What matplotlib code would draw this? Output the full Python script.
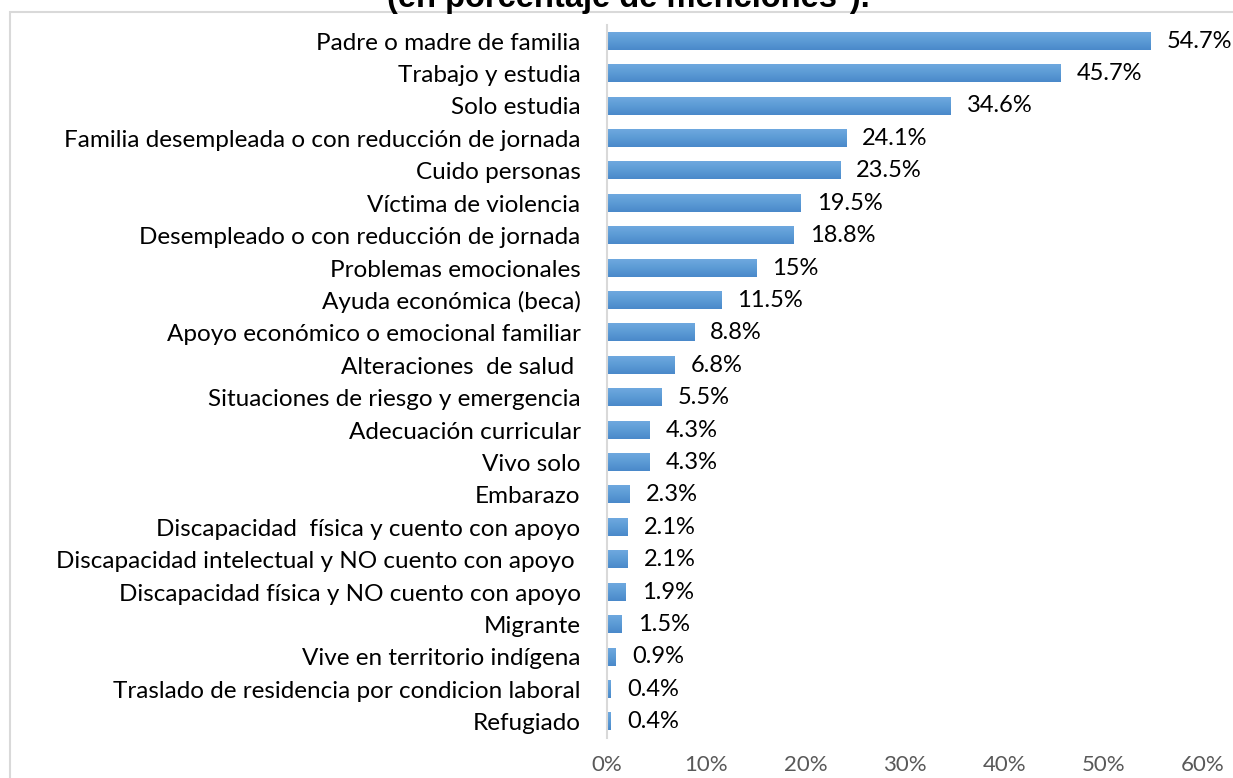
import matplotlib
matplotlib.use("Agg")
import matplotlib.pyplot as plt
import matplotlib.patches as patches
import numpy as np
from matplotlib.colors import LinearSegmentedColormap

categorias = [
    "Padre o madre de familia",
    "Trabajo y estudia",
    "Solo estudia",
    "Familia desempleada o con reducción de jornada",
    "Cuido personas",
    "Víctima de violencia",
    "Desempleado o con reducción de jornada",
    "Problemas emocionales",
    "Ayuda económica (beca)",
    "Apoyo económico o emocional familiar",
    "Alteraciones  de salud ",
    "Situaciones de riesgo y emergencia",
    "Adecuación curricular",
    "Vivo solo",
    "Embarazo",
    "Discapacidad  física y cuento con apoyo",
    "Discapacidad intelectual y NO cuento con apoyo ",
    "Discapacidad física y NO cuento con apoyo",
    "Migrante",
    "Vive en territorio indígena",
    "Traslado de residencia por condicion laboral",
    "Refugiado",
]
valores = [54.7, 45.7, 34.6, 24.1, 23.5, 19.5, 18.8, 15, 11.5, 8.8, 6.8,
           5.5, 4.3, 4.3, 2.3, 2.1, 2.1, 1.9, 1.5, 0.9, 0.4, 0.4]
etiquetas = ["54.7%", "45.7%", "34.6%", "24.1%", "23.5%", "19.5%", "18.8%",
             "15%", "11.5%", "8.8%", "6.8%", "5.5%", "4.3%", "4.3%", "2.3%",
             "2.1%", "2.1%", "1.9%", "1.5%", "0.9%", "0.4%", "0.4%"]
ticks = [0, 10, 20, 30, 40, 50, 60]

plt.rcParams['font.family'] = ['Lato', 'DejaVu Sans']

fig = plt.figure(figsize=(12.33, 7.78), dpi=100)
ax = fig.add_axes([0.4923, 0.0514, 0.4834, 0.9166])

y = list(range(len(categorias)))
barras = ax.barh(y, valores, height=0.53, color="#5B9BD5", edgecolor="none")
ax.set_ylim(len(categorias) - 0.5, -0.5)
ax.set_xlim(0, 60)

# degradado vertical en cada barra
cmap = LinearSegmentedColormap.from_list("azul", ["#6FA8DF", "#5B9BD5", "#4A89CA"])
grad = np.linspace(0, 1, 64).reshape(-1, 1)
for b in barras:
    x0, yb, w, h = b.get_x(), b.get_y(), b.get_width(), b.get_height()
    b.set_facecolor("none")
    ax.imshow(grad, cmap=cmap, aspect="auto", extent=(x0, x0 + w, yb + h, yb),
              interpolation="bicubic", zorder=2)
ax.set_ylim(len(categorias) - 0.5, -0.5)
ax.set_xlim(0, 60)

ax.set_yticks(y)
ax.set_yticklabels(categorias, fontsize=17.5, color="#000000")
ax.set_xticks(ticks)
ax.set_xticklabels([f"{t}%" for t in ticks], fontsize=16, color="#595959")
ax.tick_params(axis="y", length=0, pad=19)
ax.tick_params(axis="x", length=0, pad=12)
for s in ["top", "right", "bottom"]:
    ax.spines[s].set_visible(False)
ax.spines["left"].set_color("#D9D9D9")
ax.spines["left"].set_linewidth(1.5)

for yi, v, t in zip(y, valores, etiquetas):
    ax.text(v + 1.6, yi, t, va="center", ha="left", fontsize=17, color="#000000")

# borde del área del gráfico
fig.patches.append(patches.Rectangle((10 / 1233, -0.05), 1.1, 1 - 12 / 778 + 0.05,
                                     transform=fig.transFigure, fill=False,
                                     edgecolor="#D9D9D9", linewidth=1.5))

fig.text(628 / 1233, 1 - 7 / 778, "(en porcentaje de menciones*).", ha="center",
         va="baseline", fontsize=23.5, fontweight="bold", family="Liberation Sans")

fig.savefig("out.png", dpi=100, facecolor="white")
